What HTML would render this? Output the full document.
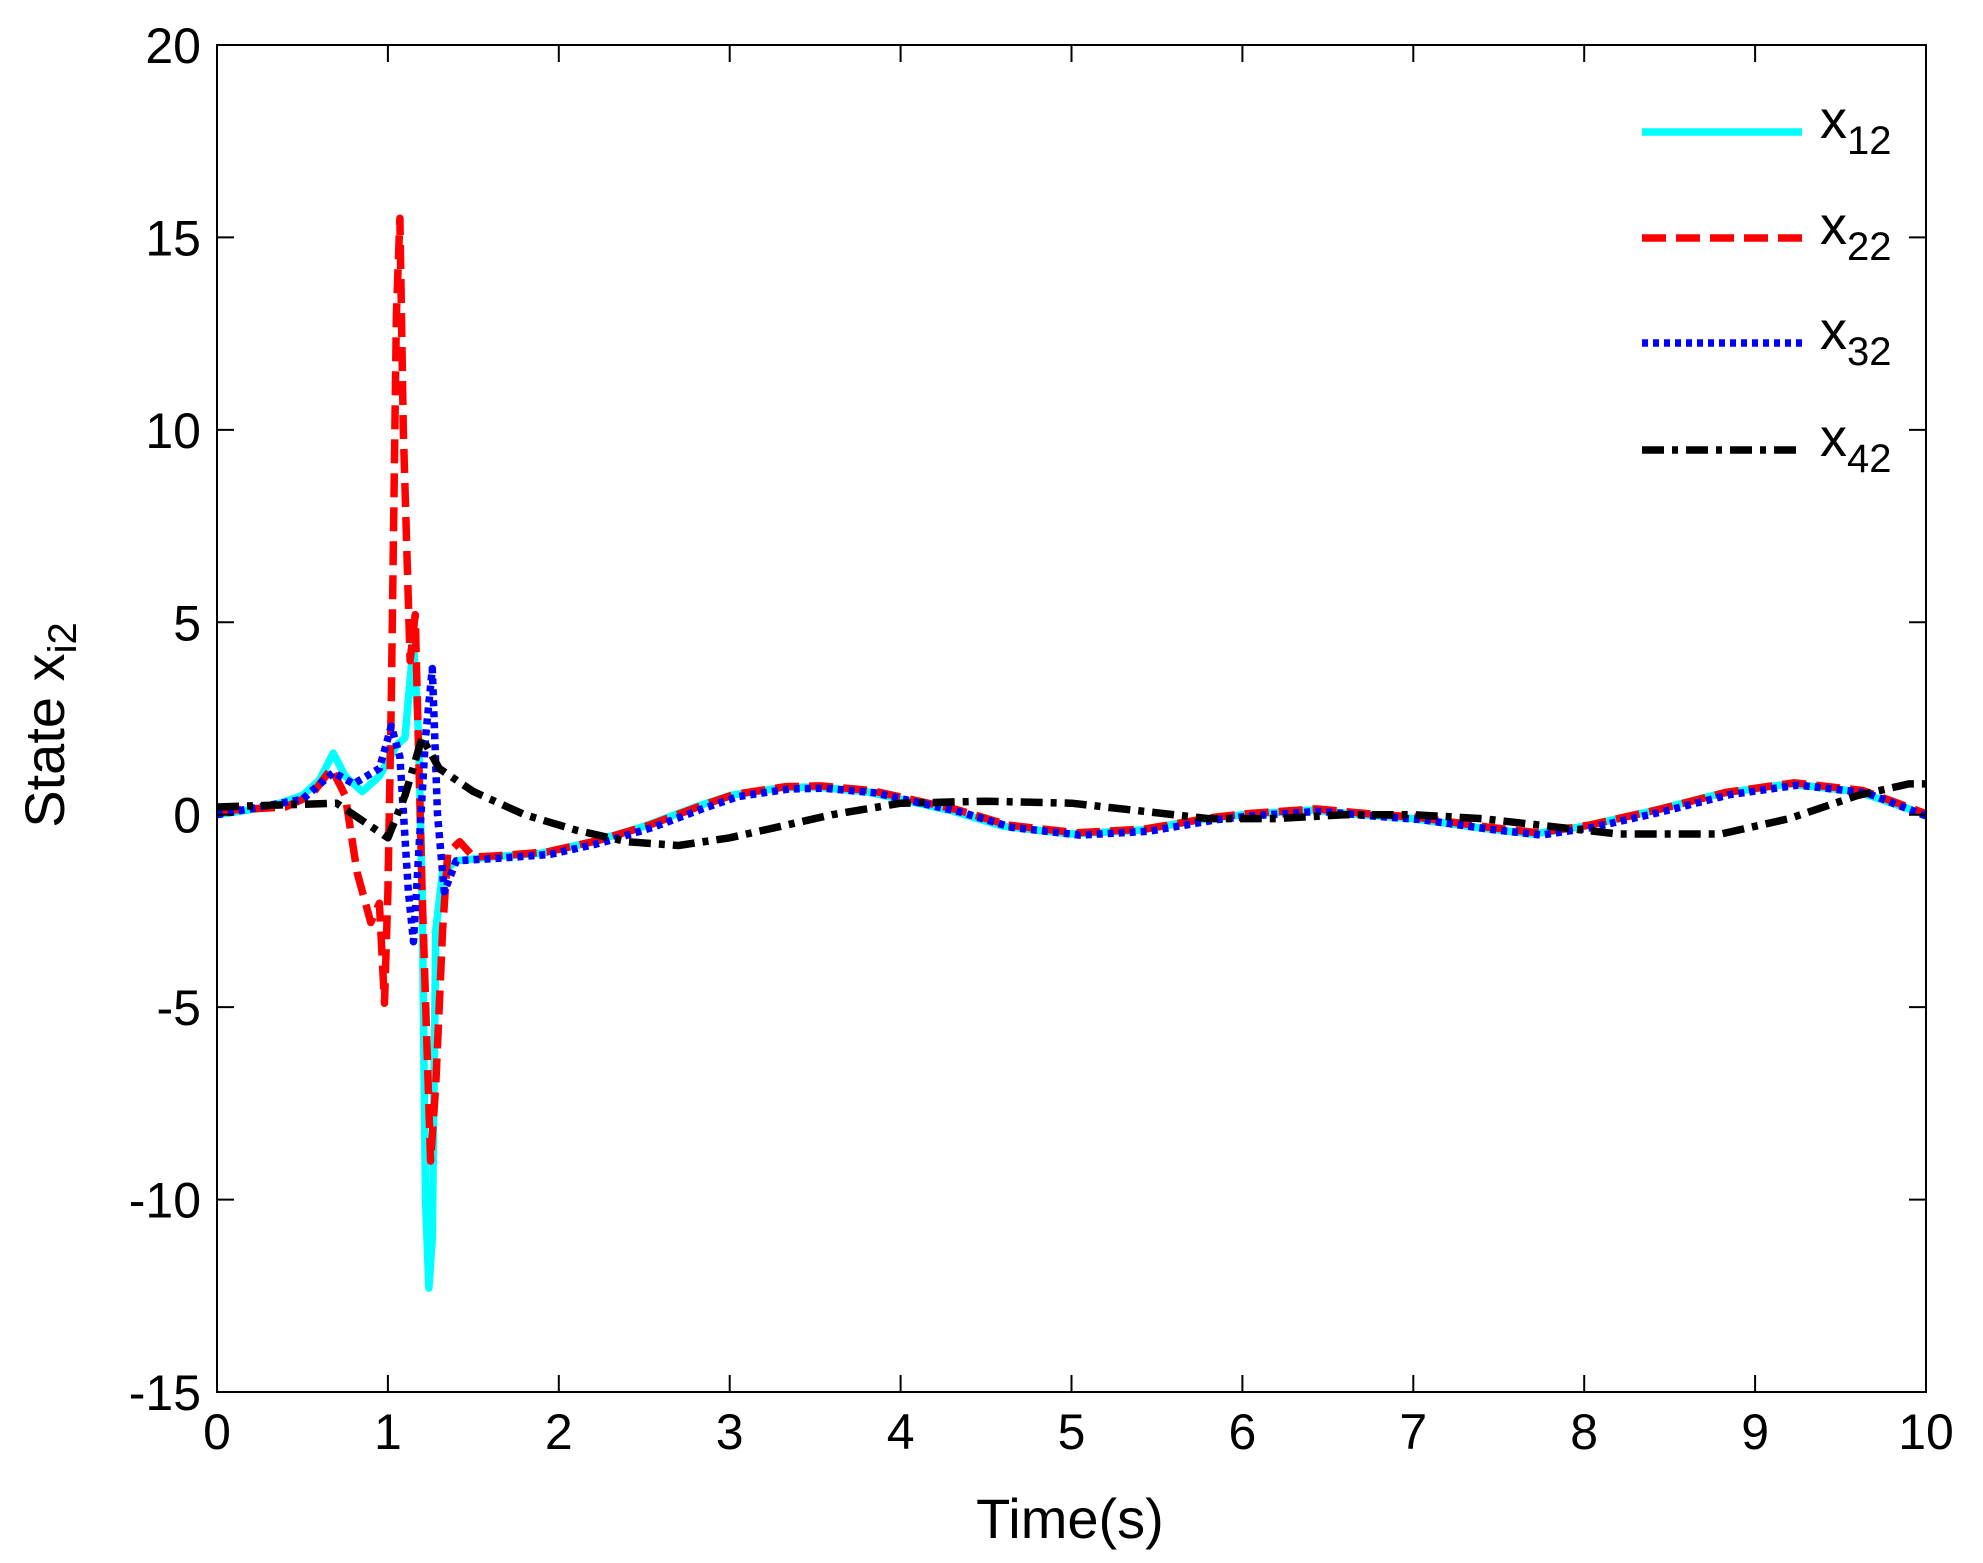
<!DOCTYPE html>
<html><head><meta charset="utf-8"><style>
html,body{margin:0;padding:0;background:#fff}
svg text{font-family:"Liberation Sans",Arial,sans-serif;fill:#000}
</style></head><body>
<svg id="s" width="1983" height="1558" xmlns="http://www.w3.org/2000/svg">
<rect width="1983" height="1558" fill="#fff"/>
<g id="plot"></g>
<rect x="217" y="45" width="1709" height="1347" fill="none" stroke="#000" stroke-width="2"/>
<g id="ticks" stroke="#000" stroke-width="2"></g>
<g id="labels" font-size="50"></g>
<text x="1070" y="1538" font-size="56" text-anchor="middle">Time(s)</text>
<text transform="translate(64,725) rotate(-90)" font-size="56" text-anchor="middle">State x<tspan font-size="40" dy="12">i2</tspan></text>
<g stroke-width="7.5" fill="none">
<line x1="1642" y1="132" x2="1802" y2="132" stroke="#00ffff"/>
<line x1="1642" y1="238" x2="1802" y2="238" stroke="#ff0000" stroke-dasharray="24,10"/>
<line x1="1642" y1="343" x2="1802" y2="343" stroke="#0000ff" stroke-dasharray="6,5"/>
<line x1="1642" y1="450" x2="1802" y2="450" stroke="#000" stroke-dasharray="22,8,6,8"/>
</g>
<g font-size="54">
<text x="1820" y="138">x<tspan font-size="40" dy="16">12</tspan></text>
<text x="1820" y="244">x<tspan font-size="40" dy="16">22</tspan></text>
<text x="1820" y="349">x<tspan font-size="40" dy="16">32</tspan></text>
<text x="1820" y="456">x<tspan font-size="40" dy="16">42</tspan></text>
</g>
</svg>
<script>
var L=217,T=45,R=1926,B=1392;
function X(t){return L+(R-L)*t/10}
function Y(v){return T+(B-T)*(20-v)/35}
var ns="http://www.w3.org/2000/svg";
var tk=document.getElementById('ticks'),lb=document.getElementById('labels');
function el(p,n,a,txt){var e=document.createElementNS(ns,n);for(var k in a)e.setAttribute(k,a[k]);if(txt!=null)e.textContent=txt;p.appendChild(e);return e}
for(var i=0;i<=10;i++){var x=X(i);el(tk,'line',{x1:x,y1:B,x2:x,y2:B-17});el(tk,'line',{x1:x,y1:T,x2:x,y2:T+17});
el(lb,'text',{x:x,y:B+57,'text-anchor':'middle'},String(i));}
for(var v=-15;v<=20;v+=5){var y=Y(v);el(tk,'line',{x1:L,y1:y,x2:L+17,y2:y});el(tk,'line',{x1:R,y1:y,x2:R-17,y2:y});
el(lb,'text',{x:L-16,y:y+18,'text-anchor':'end'},String(v));}
var tail=[[1.6,-1.1],[1.9,-1.0],[2.2,-0.7],[2.5,-0.3],[2.8,0.2],[3.0,0.5],[3.3,0.7],[3.5,0.72],[3.8,0.6],[4.0,0.4],[4.3,0.1],[4.6,-0.3],[5.0,-0.5],[5.4,-0.4],[5.8,-0.1],[6.0,0.0],[6.4,0.12],[6.7,0.0],[7.0,-0.1],[7.4,-0.35],[7.7,-0.5],[8.0,-0.3],[8.4,0.1],[8.8,0.55],[9.2,0.8],[9.6,0.6],[10,0.0]];
function sh(d,dx,dy){return d.map(function(p){return [Math.min(10,p[0]+dx),p[1]+dy]})}
var c=[[0,0],[0.3,0.2],[0.5,0.5],[0.6,0.9],[0.68,1.6],[0.75,1.0],[0.85,0.6],[0.95,1.0],[1.05,1.8],[1.1,2],[1.15,4.5],[1.18,2],[1.2,-2],[1.22,-10],[1.24,-12.3],[1.26,-11],[1.28,-3],[1.32,-1.5],[1.4,-1.2]].concat(tail);
var r=[[0,0.1],[0.4,0.2],[0.55,0.5],[0.67,1.2],[0.75,0.5],[0.82,-1.5],[0.9,-2.8],[0.95,-2.3],[0.98,-4.9],[1.0,-2],[1.02,3],[1.05,13],[1.07,15.5],[1.09,10],[1.11,7],[1.13,4],[1.16,5.2],[1.2,-2],[1.25,-9],[1.28,-7],[1.32,-3],[1.35,-1],[1.42,-0.7],[1.5,-1.1]].concat(sh(tail,0.03,0.03));
var b=[[0,0],[0.5,0.4],[0.68,1.1],[0.8,0.8],[0.95,1.2],[1.02,2.3],[1.07,1.5],[1.12,-2],[1.15,-3.3],[1.18,-1],[1.22,2],[1.26,3.8],[1.29,0],[1.33,-2],[1.4,-1.2]].concat(sh(tail,0.05,-0.03));
var k=[[0,0.2],[0.7,0.3],[0.9,-0.3],[1.0,-0.6],[1.1,0.5],[1.2,2.0],[1.3,1.2],[1.5,0.6],[1.8,0.0],[2.1,-0.4],[2.4,-0.7],[2.7,-0.8],[3.0,-0.6],[3.3,-0.3],[3.6,0.0],[4.0,0.3],[4.5,0.35],[5.0,0.3],[5.4,0.1],[5.8,-0.1],[6.2,-0.1],[6.6,0.0],[7.0,0.0],[7.4,-0.1],[7.8,-0.3],[8.2,-0.5],[8.8,-0.5],[9.2,-0.1],[9.6,0.5],[9.9,0.8],[10,0.8]];
var g=document.getElementById('plot');
function P(d,col,da){var s=d.map(function(p,i){return (i?'L':'M')+X(p[0]).toFixed(1)+' '+Y(p[1]).toFixed(1)}).join(' ');
var a={d:s,stroke:col,'stroke-width':7.5,fill:'none','stroke-linejoin':'round'};if(da)a['stroke-dasharray']=da;el(g,'path',a);}
P(c,'#00ffff');P(r,'#ff0000','24,10');P(b,'#0000ff','6,5');P(k,'#000','22,8,6,8');
</script>
</body></html>
